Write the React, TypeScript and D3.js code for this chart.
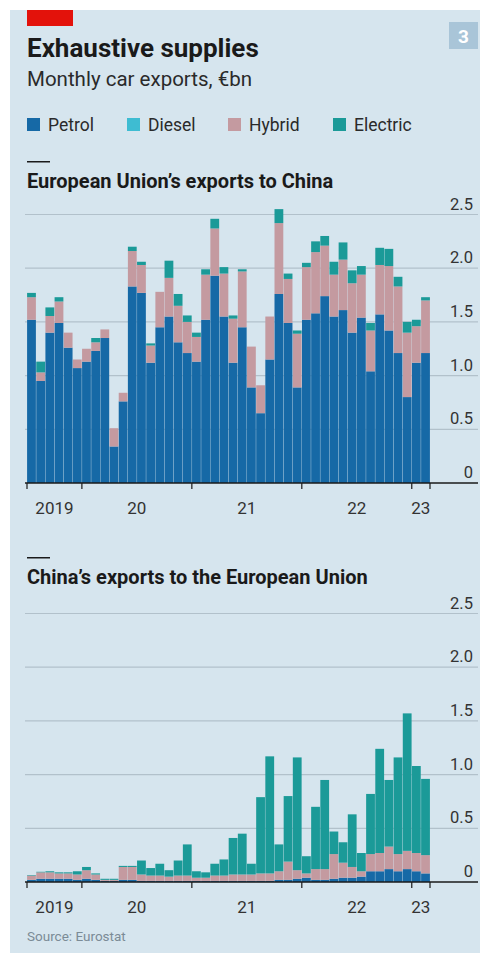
import React, { useEffect, useRef } from "react";
import * as d3 from "d3";

const months = [
  "2019-07", "2019-08", "2019-09", "2019-10", "2019-11", "2019-12",
  "2020-01", "2020-02", "2020-03", "2020-04", "2020-05", "2020-06",
  "2020-07", "2020-08", "2020-09", "2020-10", "2020-11", "2020-12",
  "2021-01", "2021-02", "2021-03", "2021-04", "2021-05", "2021-06",
  "2021-07", "2021-08", "2021-09", "2021-10", "2021-11", "2021-12",
  "2022-01", "2022-02", "2022-03", "2022-04", "2022-05", "2022-06",
  "2022-07", "2022-08", "2022-09", "2022-10", "2022-11", "2022-12",
  "2023-01", "2023-02",
];

const yearTicks = ["2020-01", "2021-01", "2022-01", "2023-01"];
const yearLabels = ["2019", "20", "21", "22", "23"];
const yTicks = [0, 0.5, 1, 1.5, 2, 2.5];

const seriesNames = ["Petrol", "Diesel", "Hybrid", "Electric"];
const seriesColors = ["#1669a6", "#3ebcd2", "#c49aa0", "#1b9a98"];

// EU -> China, €bn
const petrolEU = [1.52, 0.95, 1.40, 1.49, 1.26, 1.07, 1.13, 1.23, 1.35, 0.34, 0.76, 1.83, 1.77, 1.12, 1.45, 1.55, 1.31, 1.21, 1.13, 1.52, 1.93, 1.55, 1.12, 1.45, 0.89, 0.65, 1.15, 1.76, 1.49, 0.89, 1.52, 1.58, 1.74, 1.55, 1.61, 1.40, 1.54, 1.04, 1.57, 1.42, 1.21, 0.80, 1.12, 1.21];
const dieselEU = [0, 0, 0, 0, 0, 0, 0, 0, 0, 0, 0, 0, 0, 0, 0, 0, 0, 0, 0, 0, 0, 0, 0, 0, 0, 0, 0, 0, 0, 0, 0, 0, 0, 0, 0, 0, 0, 0, 0, 0, 0, 0, 0, 0];
const hybridEU = [0.21, 0.08, 0.155, 0.20, 0.14, 0.08, 0.12, 0.08, 0.08, 0.17, 0.08, 0.33, 0.26, 0.16, 0.33, 0.36, 0.34, 0.29, 0.23, 0.42, 0.44, 0.40, 0.41, 0.52, 0.38, 0.26, 0.40, 0.66, 0.41, 0.50, 0.49, 0.57, 0.47, 0.39, 0.47, 0.46, 0.40, 0.38, 0.46, 0.60, 0.62, 0.60, 0.34, 0.49];
const electricEU = [0.04, 0.10, 0.08, 0.04, 0, 0, 0, 0.04, 0, 0, 0, 0.04, 0.03, 0.02, 0, 0.16, 0.11, 0.06, 0.04, 0.05, 0.09, 0.06, 0.03, 0.02, 0, 0, 0, 0.13, 0.05, 0.03, 0.04, 0.10, 0.09, 0.12, 0.16, 0.12, 0.08, 0.07, 0.16, 0.16, 0.09, 0.10, 0.06, 0.03];

// China -> EU, €bn
const petrolCN = [0.02, 0.03, 0.03, 0.03, 0.03, 0.02, 0.03, 0.02, 0.01, 0.01, 0.02, 0.02, 0.01, 0.01, 0.01, 0.01, 0.01, 0.01, 0.01, 0.01, 0.01, 0.01, 0.01, 0.01, 0.01, 0.01, 0.01, 0.02, 0.02, 0.03, 0.04, 0.02, 0.02, 0.03, 0.04, 0.04, 0.05, 0.10, 0.10, 0.12, 0.10, 0.12, 0.10, 0.08];
const dieselCN = [0, 0, 0, 0, 0, 0, 0, 0, 0, 0, 0, 0, 0, 0, 0, 0, 0, 0, 0, 0, 0, 0, 0, 0, 0, 0, 0, 0, 0, 0, 0, 0, 0, 0, 0, 0, 0, 0, 0, 0, 0, 0, 0, 0];
const hybridCN = [0.04, 0.06, 0.06, 0.05, 0.05, 0.05, 0.08, 0.05, 0.01, 0.01, 0.12, 0.12, 0.06, 0.05, 0.05, 0.04, 0.05, 0.05, 0.03, 0.03, 0.05, 0.05, 0.06, 0.06, 0.06, 0.07, 0.07, 0.08, 0.17, 0.08, 0.04, 0.10, 0.10, 0.23, 0.14, 0.10, 0.05, 0.16, 0.17, 0.21, 0.16, 0.17, 0.17, 0.17];
const electricCN = [0.005, 0.005, 0.01, 0.01, 0.01, 0.03, 0.03, 0.01, 0.01, 0.01, 0.01, 0.01, 0.13, 0.07, 0.11, 0.06, 0.14, 0.29, 0.06, 0.05, 0.11, 0.15, 0.34, 0.38, 0.10, 0.71, 1.09, 0.25, 0.61, 1.05, 0.16, 0.58, 0.83, 0.21, 0.19, 0.49, 0.17, 0.56, 0.97, 0.62, 0.90, 1.28, 0.81, 0.71];

const W = 483;
const H = 953;
const FONT = "Roboto, 'Noto Sans', sans-serif";

type Row = { month: string; [k: string]: number | string };

const buildRows = (p: number[], d: number[], h: number[], e: number[]): Row[] =>
  months.map((m, i) => ({ month: m, Petrol: p[i], Diesel: d[i], Hybrid: h[i], Electric: e[i] }));

const App: React.FC = () => {
  const svgRef = useRef<SVGSVGElement | null>(null);

  useEffect(() => {
    if (!svgRef.current) return;
    const svg = d3.select(svgRef.current);
    svg.selectAll("*").remove();

    svg.append("rect").attr("width", W).attr("height", H).attr("fill", "#ffffff");
    svg.append("rect").attr("x", 10).attr("y", 10).attr("width", 470).attr("height", H - 10).attr("fill", "#d6e5ee");

    // header
    svg.append("rect").attr("x", 27).attr("y", 10).attr("width", 46).attr("height", 16).attr("fill", "#e3120b");
    svg.append("rect").attr("x", 449).attr("y", 22).attr("width", 29).attr("height", 27).attr("fill", "#a9c5d8");
    svg.append("text").attr("x", 463.5).attr("y", 43).attr("text-anchor", "middle")
      .style("font-family", FONT).style("font-weight", "700").style("font-size", "19px").style("fill", "#ffffff").text("3");

    svg.append("text").attr("x", 27).attr("y", 57)
      .style("font-family", FONT).style("font-weight", "700").style("font-size", "26px").style("fill", "#1a1a1a")
      .text("Exhaustive supplies");
    svg.append("text").attr("x", 27).attr("y", 86)
      .style("font-family", FONT).style("font-size", "20.5px").style("fill", "#2a2a2a")
      .text("Monthly car exports, €bn");

    const legendX = [27, 127, 228, 333];
    seriesNames.forEach((name, i) => {
      svg.append("rect").attr("x", legendX[i]).attr("y", 118).attr("width", 13).attr("height", 13).attr("fill", seriesColors[i]);
      svg.append("text").attr("x", legendX[i] + 21).attr("y", 131)
        .style("font-family", FONT).style("font-size", "17.5px").style("fill", "#2a2a2a").text(name);
    });

    const x = d3.scaleBand<string>().domain(months).range([27, 430]).paddingInner(0.04).paddingOuter(0.01);
    const step = x.step();
    const monthStart = (m: string) => (x(m) as number) - (step * x.paddingInner()) / 2;

    const stack = d3.stack<Row>().keys(seriesNames).value((d, k) => d[k] as number);

    const drawPanel = (title: string, top: number, y0: number, rows: Row[]) => {
      const y = d3.scaleLinear().domain([0, 2.5]).range([y0, y0 - 268.5]);

      svg.append("rect").attr("x", 27).attr("y", top - 27).attr("width", 23).attr("height", 1.5).attr("fill", "#1a1a1a");
      svg.append("text").attr("x", 27).attr("y", top)
        .style("font-family", FONT).style("font-weight", "700").style("font-size", "20px").style("fill", "#1a1a1a")
        .text(title);

      const grid = svg.append("g");
      yTicks.forEach((t) => {
        if (t > 0) {
          grid.append("line").attr("x1", 25).attr("x2", 478).attr("y1", y(t)).attr("y2", y(t))
            .attr("stroke", "#b2c1cb").attr("stroke-width", 1.2);
        }
        grid.append("text").attr("x", 473).attr("y", y(t) - 5).attr("text-anchor", "end")
          .style("font-family", FONT).style("font-size", "16.5px").style("fill", "#333333")
          .text(t === 0 ? "0" : d3.format(".1f")(t));
      });

      const layers = stack(rows);
      svg.append("g").selectAll("g").data(layers).join("g")
        .attr("fill", (_, i) => seriesColors[i])
        .selectAll("rect").data((d) => d).join("rect")
        .attr("x", (d) => x(d.data.month) as number)
        .attr("width", x.bandwidth())
        .attr("y", (d) => y(d[1]))
        .attr("height", (d) => Math.max(0, y(d[0]) - y(d[1])));

      svg.append("line").attr("x1", 25).attr("x2", 478).attr("y1", y0).attr("y2", y0)
        .attr("stroke", "#1a1a1a").attr("stroke-width", 1.5);

      const bounds = [27, ...yearTicks.map(monthStart), 430];
      bounds.forEach((tx) => {
        svg.append("line").attr("x1", tx).attr("x2", tx).attr("y1", y0).attr("y2", y0 + 6)
          .attr("stroke", "#1a1a1a").attr("stroke-width", 1.2);
      });
      yearLabels.forEach((lab, i) => {
        svg.append("text").attr("x", (bounds[i] + bounds[i + 1]) / 2).attr("y", y0 + 31).attr("text-anchor", "middle")
          .style("font-family", FONT).style("font-size", "17px").style("fill", "#333333").text(lab);
      });
    };

    drawPanel("European Union\u2019s exports to China", 188, 483, buildRows(petrolEU, dieselEU, hybridEU, electricEU));
    drawPanel("China\u2019s exports to the European Union", 584, 882, buildRows(petrolCN, dieselCN, hybridCN, electricCN));

    svg.append("text").attr("x", 27).attr("y", 941)
      .style("font-family", FONT).style("font-size", "13.5px").style("fill", "#7b8b96").text("Source: Eurostat");
  }, []);

  return (
    <svg ref={svgRef} width={W} height={H} style={{ position: "absolute", left: 0, top: 0, display: "block" }} />
  );
};

export default App;
